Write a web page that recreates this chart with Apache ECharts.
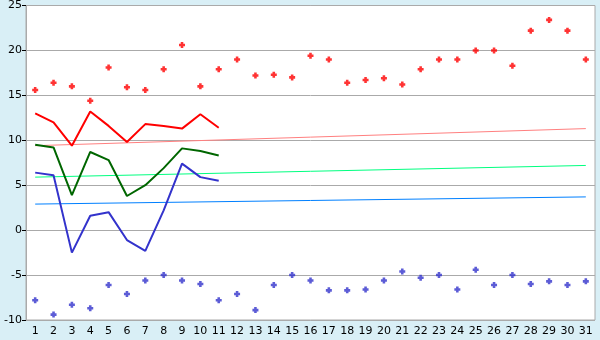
<!DOCTYPE html>
<html><head><meta charset="utf-8">
<script src="https://cdn.jsdelivr.net/npm/echarts@6/dist/echarts.min.js"></script>
<style>html,body{margin:0;padding:0;background:#d9eff6;}#c{width:600px;height:340px;}</style>
</head><body><div id="c"></div>
<script>
var days = ['1','2','3','4','5','6','7','8','9','10','11','12','13','14','15','16','17','18','19','20','21','22','23','24','25','26','27','28','29','30','31'];
var yTicks = [-10, 25, 5];
var maxTemps = [15.6,16.4,16.0,14.4,18.1,15.9,15.6,17.9,20.6,16.0,17.9,19.0,17.2,17.3,17.0,19.4,19.0,16.4,16.7,16.9,16.2,17.9,19.0,19.0,20.0,20.0,18.3,22.2,23.4,22.2,19.0];
var minTemps = [-7.8,-9.4,-8.3,-8.7,-6.1,-7.1,-5.6,-5.0,-5.6,-6.0,-7.8,-7.1,-8.9,-6.1,-5.0,-5.6,-6.7,-6.7,-6.6,-5.6,-4.6,-5.3,-5.0,-6.6,-4.4,-6.1,-5.0,-6.0,-5.7,-6.1,-5.7];
var maxLine = [13.0,12.0,9.4,13.2,11.6,9.8,11.8,11.6,11.3,12.9,11.4];
var meanLine = [9.5,9.2,3.9,8.7,7.8,3.8,5.0,6.9,9.1,8.8,8.3];
var minLine = [6.4,6.1,-2.5,1.6,2.0,-1.1,-2.3,2.2,7.4,5.9,5.5];
var maxTrend = [[0,9.4],[30,11.3]];
var meanTrend = [[0,5.9],[30,7.2]];
var minTrend = [[0,2.9],[30,3.7]];

var plus = 'path://M2,0H5V2H7V5H5V7H2V5H0V2H2Z';
var chart = echarts.init(document.getElementById('c'), null, {renderer:'canvas'});
var font = 'DejaVu Sans';
chart.setOption({
  backgroundColor: '#d9eff6',
  animation: false,
  grid: {left:26, right:5, top:5, bottom:20, show:true, backgroundColor:'#ffffff', borderColor:'#aaaaaa', borderWidth:1},
  xAxis: {
    type:'category', data: days, boundaryGap:true,
    axisLine:{lineStyle:{color:'#aaaaaa'}},
    axisTick:{alignWithLabel:true, length:5, lineStyle:{color:'#000'}},
    axisLabel:{color:'#000', fontFamily:font, fontSize:11, margin:6, interval:0},
    splitLine:{show:false}
  },
  yAxis: {
    type:'value', min:yTicks[0], max:yTicks[1], interval:yTicks[2],
    axisLine:{show:true, lineStyle:{color:'#aaaaaa'}},
    axisTick:{show:true, length:4, lineStyle:{color:'#000'}},
    axisLabel:{color:'#000', fontFamily:font, fontSize:11, margin:4},
    splitLine:{lineStyle:{color:'#aaaaaa', width:1}}
  },
  series: [
    {type:'line', data:maxTrend, symbol:'none', lineStyle:{color:'#ff8080', width:1}, z:2},
    {type:'line', data:meanTrend, symbol:'none', lineStyle:{color:'#00ff80', width:1}, z:2},
    {type:'line', data:minTrend, symbol:'none', lineStyle:{color:'#0080ff', width:1}, z:2},
    {type:'line', data:maxLine, symbol:'none', lineStyle:{color:'#ff0000', width:2}, z:3},
    {type:'line', data:meanLine, symbol:'none', lineStyle:{color:'#006600', width:2}, z:3},
    {type:'line', data:minLine, symbol:'none', lineStyle:{color:'#3333cc', width:2}, z:3},
    {type:'scatter', data:maxTemps, symbol:plus, symbolSize:6, itemStyle:{color:'#ff0000'}, z:4},
    {type:'scatter', data:minTemps, symbol:plus, symbolSize:6, itemStyle:{color:'#3333cc'}, z:4}
  ]
});
</script></body></html>
